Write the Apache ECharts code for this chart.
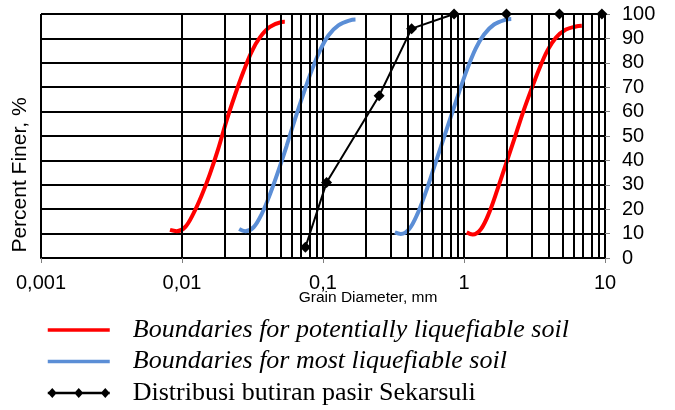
<!DOCTYPE html>
<html>
<head>
<meta charset="utf-8">
<script src="https://cdn.jsdelivr.net/npm/echarts@6/dist/echarts.min.js"></script>
<style>
  html, body { margin: 0; padding: 0; background: #fff; }
  #chart { width: 675px; height: 410px; }
</style>
</head>
<body>
<div id="chart"></div>
<script>
// x tick labels (decades of the log axis)
const xTickLabels = ["0,001", "0,01", "0,1", "1", "10"];
// vertical grid lines at 2..9 of every decade
const minorGridX = [
  0.002, 0.003, 0.004, 0.005, 0.006, 0.007, 0.008, 0.009,
  0.02, 0.03, 0.04, 0.05, 0.06, 0.07, 0.08, 0.09,
  0.2, 0.3, 0.4, 0.5, 0.6, 0.7, 0.8, 0.9,
  2, 3, 4, 5, 6, 7, 8, 9,
];

// boundary curves: [diameter mm, percent finer]
const redLeft = [
  [0.00822, 11.5], [0.00917, 11.0], [0.0105, 12.6], [0.01202, 18.1], [0.01378, 25.6],
  [0.01578, 34.5], [0.01807, 44.7], [0.0207, 56.3], [0.0237, 66.6], [0.0272, 76.2],
  [0.0311, 84.4], [0.0356, 90.3], [0.042, 94.7], [0.0508, 96.7], [0.0536, 96.8],
];
const redRight = [
  [1.045, 10.5], [1.152, 9.6], [1.321, 11.9], [1.514, 18.8], [1.732, 28.3],
  [1.986, 38.6], [2.275, 48.8], [2.6, 59.1], [2.985, 68.7], [3.42, 77.6],
  [3.91, 85.1], [4.49, 90.3], [5.28, 93.6], [6.21, 94.9], [6.85, 95.2],
];
const blueLeft = [
  [0.02543, 11.9], [0.02805, 11.0], [0.0322, 12.6], [0.0368, 18.1], [0.0422, 26.3],
  [0.0483, 35.8], [0.0553, 46.1], [0.0634, 57.0], [0.0726, 67.3], [0.0832, 76.9],
  [0.0953, 85.1], [0.1092, 91.2], [0.1285, 95.3], [0.1552, 97.4], [0.17, 97.7],
];
const blueRight = [
  [0.3233, 10.5], [0.3565, 9.85], [0.4088, 11.9], [0.4677, 18.1], [0.5358, 27.0],
  [0.6138, 37.2], [0.703, 47.5], [0.805, 57.7], [0.923, 68.0], [1.057, 77.6],
  [1.21, 85.8], [1.387, 91.6], [1.633, 95.7], [1.972, 97.7], [2.164, 98.0],
];
// sieve analysis of the Sekarsuli sand
const sieveSizes = [0.075, 0.106, 0.25, 0.425, 0.85, 2, 4.75, 9.5];
const percentFiner = [4.4, 30.9, 66.5, 94, 100, 100, 100, 100];

const redName = "Boundaries for potentially liquefiable soil";
const blueName = "Boundaries for most liquefiable soil";
const blackName = "Distribusi butiran pasir Sekarsuli";

const RED = "#ff0000";
const BLUE = "#5b8ed6";

const chart = echarts.init(document.getElementById("chart"));

const curve = (name, data, color) => ({
  name,
  type: "line",
  data,
  smooth: 0.35,
  symbol: "none",
  z: 3,
  lineStyle: { color, width: 4 },
  itemStyle: { color },
});

const option = {
  animation: false,
  grid: { left: 41, right: 70, top: 14, bottom: 152 },
  xAxis: {
    type: "log",
    logBase: 10,
    min: 0.001,
    max: 10,
    axisLine: { show: true, lineStyle: { color: "#000", width: 2 } },
    axisTick: { show: true, length: 5, lineStyle: { color: "#7f7f7f", width: 1 } },
    axisLabel: {
      color: "#000",
      fontFamily: "Liberation Sans, Arial",
      fontSize: 20,
      margin: 15,
      formatter: (v, i) => xTickLabels[i],
    },
    splitLine: { show: true, lineStyle: { color: "#000", width: 2 } },
  },
  yAxis: {
    type: "value",
    position: "right",
    min: 0,
    max: 100,
    interval: 10,
    axisLine: { show: true, lineStyle: { color: "#000", width: 2 } },
    axisTick: { show: true, length: 5, lineStyle: { color: "#7f7f7f", width: 1 } },
    axisLabel: {
      color: "#000",
      fontFamily: "Liberation Sans, Arial",
      fontSize: 20,
      margin: 17,
    },
    splitLine: { show: true, lineStyle: { color: "#000", width: 2 } },
  },
  legend: {
    orient: "vertical",
    left: 46,
    top: 317,
    padding: 0,
    itemWidth: 62,
    itemHeight: 10,
    itemGap: 5.5,
    data: [
      { name: redName, itemStyle: { opacity: 0 }, lineStyle: { width: 3.5 } },
      { name: blueName, itemStyle: { opacity: 0 }, lineStyle: { width: 3.5 } },
      {
        name: blackName,
        icon: "path://M0,3.8 L62,3.8 L62,6.2 L0,6.2 Z M4.5,0 L9,5 L4.5,10 L0,5 Z M31,0 L35.5,5 L31,10 L26.5,5 Z M57.5,0 L62,5 L57.5,10 L53,5 Z",
        itemStyle: { color: "#000" },
      },
    ],
    formatter: (name) => (name === blackName ? `{n|${name}}` : `{i|${name}}`),
    textStyle: {
      color: "#000",
      padding: [0, 0, 0, 18],
      rich: {
        i: { fontFamily: "Liberation Serif, Times New Roman", fontStyle: "italic", fontSize: 26, lineHeight: 26, color: "#000" },
        n: { fontFamily: "Liberation Serif, Times New Roman", fontSize: 26, lineHeight: 26, color: "#000" },
      },
    },
  },
  graphic: [
    {
      type: "text",
      x: 20,
      y: 175,
      rotation: Math.PI / 2,
      style: {
        text: "Percent Finer, %",
        font: "21px Liberation Sans, Arial",
        fill: "#000",
        align: "center",
        verticalAlign: "middle",
      },
    },
    {
      type: "text",
      x: 368,
      y: 298,
      style: {
        text: "Grain Diameter, mm",
        font: "15.5px Liberation Sans, Arial",
        fill: "#000",
        align: "center",
        verticalAlign: "middle",
      },
    },
  ],
  series: [
    {
      name: "minor-grid",
      type: "line",
      data: [],
      z: 1,
      silent: true,
      markLine: {
        silent: true,
        symbol: "none",
        label: { show: false },
        animation: false,
        lineStyle: { color: "#000", width: 2, type: "solid" },
        data: minorGridX.map((v) => ({ xAxis: v })),
      },
    },
    curve(redName, redLeft, RED),
    curve(redName, redRight, RED),
    curve(blueName, blueLeft, BLUE),
    curve(blueName, blueRight, BLUE),
    {
      name: blackName,
      type: "line",
      data: sieveSizes.map((s, i) => [s, percentFiner[i]]),
      z: 4,
      symbol: "diamond",
      symbolSize: 11,
      lineStyle: { color: "#000", width: 2 },
      itemStyle: { color: "#000" },
    },
  ],
};

chart.setOption(option);
</script>
</body>
</html>
